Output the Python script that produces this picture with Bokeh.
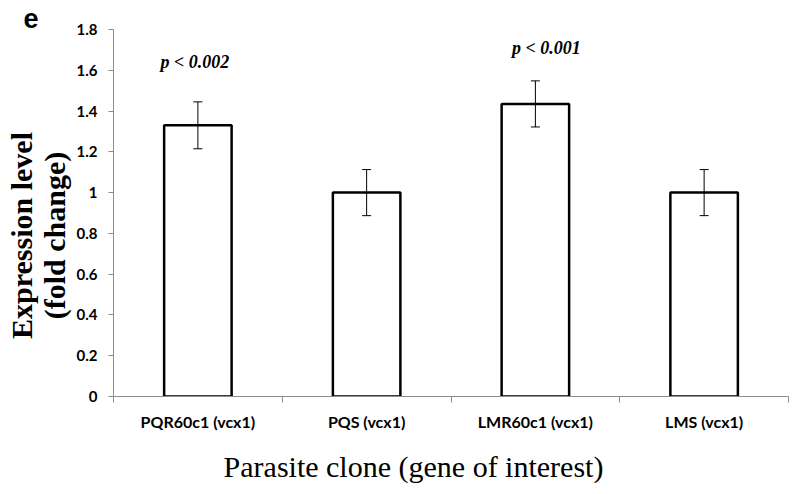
import numpy as np
from bokeh.plotting import figure
from bokeh.models import (Range1d, FixedTicker, Whisker, ColumnDataSource, TeeHead,
                          NumeralTickFormatter, Title)
from bokeh.core.properties import value
from bokeh.embed import file_html
from bokeh.resources import INLINE

categories = ["PQR60c1 (vcx1)", "PQS (vcx1)", "LMR60c1 (vcx1)", "LMS (vcx1)"]
expression = [1.33, 1.0, 1.435, 1.0]
error = [0.115, 0.113, 0.113, 0.113]
y_ticks = [0, 0.2, 0.4, 0.6, 0.8, 1.0, 1.2, 1.4, 1.6, 1.8]
p_text = ["p < 0.002", "p < 0.001"]
p_bar = [0, 2]
p_y = [1.64, 1.71]

xc = np.arange(len(categories)) + 0.5
src = ColumnDataSource(dict(
    x=xc, top=expression,
    upper=np.array(expression) + np.array(error),
    lower=np.array(expression) - np.array(error),
))

p = figure(width=800, height=494, output_backend="svg", toolbar_location=None,
           x_range=Range1d(0, len(categories)), y_range=Range1d(0, 1.8),
           min_border_left=113, min_border_right=12, min_border_top=29, min_border_bottom=98)
p.outline_line_color = None
p.grid.visible = False

p.title = Title(text="e", align="left", offset=-90, standoff=3,
                text_font="Liberation Sans", text_font_style="bold",
                text_font_size="27px", text_line_height=0.9, text_color="black")

p.vbar(x="x", top="top", bottom=0, width=0.4, source=src,
       fill_color="white", line_color="black", line_width=2.5)

p.add_layout(Whisker(source=src, base="x", upper="upper", lower="lower", level="overlay",
                     line_color="black", line_width=1,
                     upper_head=TeeHead(size=9, line_color="black", line_width=1),
                     lower_head=TeeHead(size=9, line_color="black", line_width=1)))

p.text(x=[xc[i] for i in p_bar], y=p_y, text=p_text, x_offset=[-3, 11],
       text_font=value("Liberation Serif"), text_font_style="bold italic",
       text_font_size="18px", text_align="center", text_baseline="middle",
       text_color="black")

axis_grey = "#8c8c8c"
xa = p.xaxis[0]
xa.ticker = FixedTicker(ticks=list(xc), minor_ticks=list(range(len(categories) + 1)))
xa.major_label_overrides = {float(v): c for v, c in zip(xc, categories)}
xa.axis_line_color = axis_grey
xa.major_tick_out = 0
xa.major_tick_in = 0
xa.minor_tick_out = 6
xa.minor_tick_in = 0
xa.minor_tick_line_color = axis_grey
xa.major_label_standoff = 9
xa.major_label_text_font = "Lato"
xa.major_label_text_font_style = "bold"
xa.major_label_text_font_size = "16px"
xa.major_label_text_color = "black"
xa.axis_label = "Parasite clone (gene of interest)" + "\u00a0" * 10
xa.axis_label_text_font = "Liberation Serif"
xa.axis_label_text_font_style = "normal"
xa.axis_label_text_font_size = "30px"
xa.axis_label_text_color = "black"
xa.axis_label_standoff = 16

ya = p.yaxis[0]
ya.ticker = FixedTicker(ticks=y_ticks)
ya.formatter = NumeralTickFormatter(format="0.[0]")
ya.axis_line_color = axis_grey
ya.major_tick_line_color = axis_grey
ya.major_tick_out = 5
ya.major_tick_in = 0
ya.minor_tick_out = 0
ya.minor_tick_in = 0
ya.major_label_standoff = 11
ya.major_label_text_font = "Lato"
ya.major_label_text_font_style = "bold"
ya.major_label_text_font_size = "15px"
ya.major_label_text_color = "black"
ya.axis_label = "Expression level" + "\u00a0" * 6 + "\n(fold change)" + "\u00a0" * 6
ya.axis_label_text_font = "Liberation Serif"
ya.axis_label_text_font_style = "bold"
ya.axis_label_text_font_size = "30px"
ya.axis_label_text_line_height = 1.0
ya.axis_label_text_color = "black"
ya.axis_label_standoff = 3

open("out.html", "w").write(file_html(p, INLINE))
